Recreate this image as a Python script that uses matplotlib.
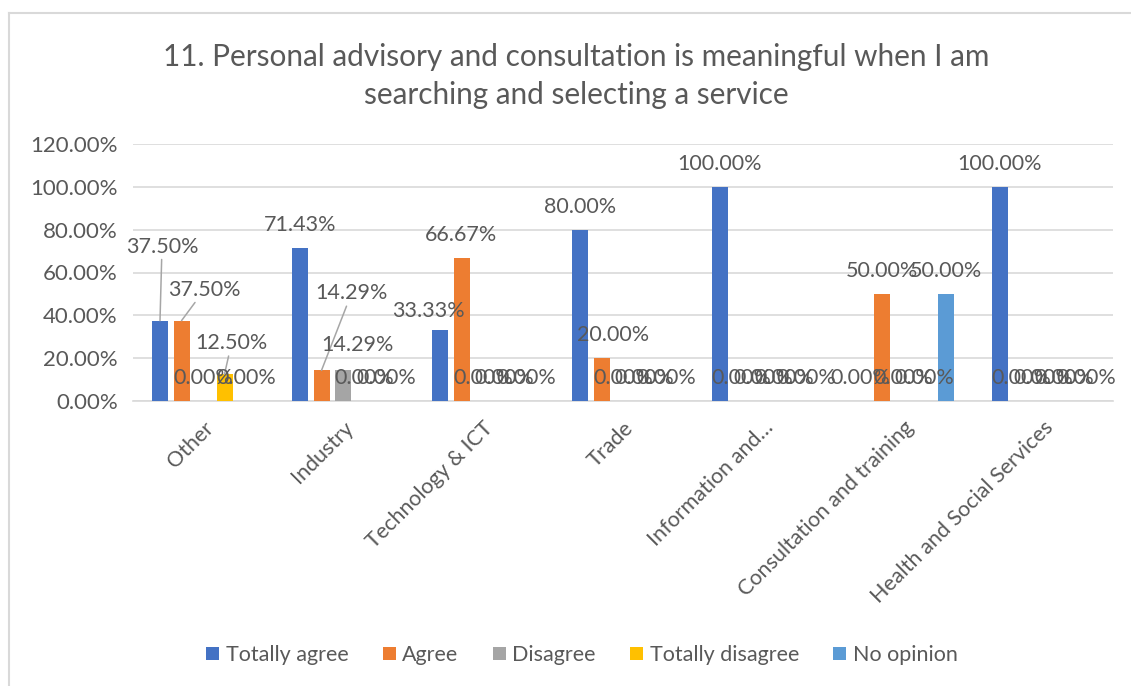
import matplotlib
matplotlib.use("Agg")
import matplotlib.pyplot as plt
from matplotlib.patches import Patch
from matplotlib.lines import Line2D
import numpy as np

# ---------- data ----------
categories = ["Other", "Industry", "Technology & ICT", "Trade",
              "Information and\u2026", "Consultation and training",
              "Health and Social Services"]
series = ["Totally agree", "Agree", "Disagree", "Totally disagree", "No opinion"]
totally_agree = [37.50, 71.43, 33.33, 80.00, 100.00, 0.00, 100.00]
agree = [37.50, 14.29, 66.67, 20.00, 0.00, 50.00, 0.00]
disagree = [0.00, 14.29, 0.00, 0.00, 0.00, 0.00, 0.00]
totally_disagree = [12.50, 0.00, 0.00, 0.00, 0.00, 0.00, 0.00]
no_opinion = [0.00, 0.00, 0.00, 0.00, 0.00, 50.00, 0.00]
values = [totally_agree, agree, disagree, totally_disagree, no_opinion]
y_ticks = [0, 20, 40, 60, 80, 100, 120]

# ---------- style ----------
COLORS = ["#4472C4", "#ED7D31", "#A5A5A5", "#FFC000", "#5B9BD5"]
TEXT = "#595959"
GRID = "#D9D9D9"
FONT = "Lato"

# labels Excel moved by hand: (category, series) -> (dx px, dy px, leader line)
moved = {
    (0, 0): (2, 51, True),
    (0, 1): (23, 8, True),
    (0, 3): (7, 8, True),
    (1, 1): (30, 54, True),
    (1, 2): (14, 2, False),
    (2, 0): (-12, -4, False),
    (3, 1): (12, 0, False),
}

W, H, DPI = 1131, 686, 100
fig = plt.figure(figsize=(W / DPI, H / DPI), dpi=DPI)
plt.rcParams["font.family"] = [FONT, "DejaVu Sans"]

left, right, bottom, top = 133, 1113, 401, 144
ax = fig.add_axes([left / W, 1 - bottom / H, (right - left) / W, (bottom - top) / H])

step = 21.5 / 140
width = 16 / 140
x = np.arange(len(categories))
for s, (name, vals, col) in enumerate(zip(series, values, COLORS)):
    xs = x + (s - 2) * step
    ax.bar(xs, vals, width=width, color=col, label=name, zorder=3)
    for c, (xi, v) in enumerate(zip(xs, vals)):
        dx, dy, leader = moved.get((c, s), (0, 0, False))
        kw = {}
        if leader:
            kw["arrowprops"] = dict(arrowstyle="-", color="#A6A6A6", lw=1.1,
                                    shrinkA=0, shrinkB=0)
        ax.annotate(f"{v:.2f}%", xy=(xi, v), xytext=(dx, 23 + dy),
                    textcoords="offset pixels", ha="center", va="center",
                    fontsize=15.5, color=TEXT, zorder=4, annotation_clip=False, **kw)

ax.set_xlim(-0.5, len(categories) - 0.5)
ax.set_ylim(0, 120)
ax.set_yticks(y_ticks)
ax.set_yticklabels([f"{t:.2f}%" for t in y_ticks], fontsize=16, color=TEXT)
ax.set_xticks(x)
ax.set_xticklabels(categories, rotation=45, ha="right", rotation_mode="anchor",
                   fontsize=15.5, color=TEXT)
ax.tick_params(axis="both", length=0)
ax.tick_params(axis="y", pad=11)
ax.tick_params(axis="x", pad=12)
ax.grid(axis="y", color=GRID, lw=1.2, zorder=0)
for sp in ["top", "right", "left"]:
    ax.spines[sp].set_visible(False)
ax.spines["bottom"].set_color(GRID)
ax.spines["bottom"].set_linewidth(1.2)

fig.text(576 / W, 1 - 76 / H,
         "11. Personal advisory and consultation is meaningful when I am\nsearching and selecting a service",
         ha="center", va="center", fontsize=21.4, color=TEXT, linespacing=1.4)

handles = [Patch(facecolor=c, edgecolor="none") for c in COLORS]
fig.legend(handles, series, loc="center", bbox_to_anchor=(582 / W, 1 - 655 / H),
           ncol=5, frameon=False, fontsize=15.5, labelcolor=TEXT,
           handlelength=0.6, handleheight=0.6, handletextpad=0.3, columnspacing=1.6)

# chart frame (cropped: only top and left edges visible)
fig.add_artist(Line2D([9 / W, 9 / W], [0, 1 - 13 / H], color="#D9D9D9", lw=1.5,
                      transform=fig.transFigure))
fig.add_artist(Line2D([9 / W, 1], [1 - 13 / H, 1 - 13 / H], color="#D9D9D9", lw=1.5,
                      transform=fig.transFigure))

fig.savefig("out.png", dpi=DPI)
